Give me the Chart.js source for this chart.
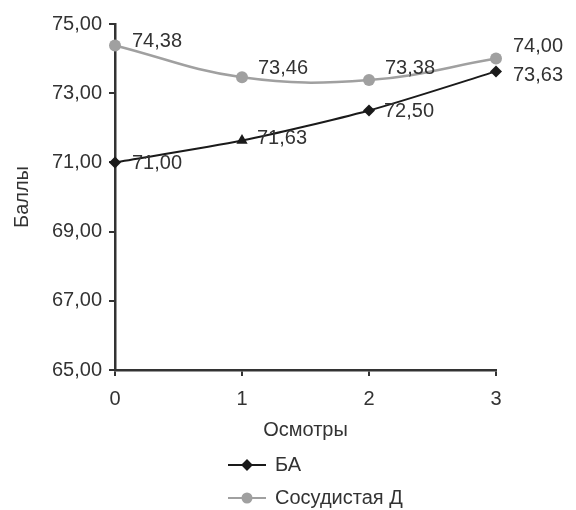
<!DOCTYPE html>
<html>
<head>
<meta charset="utf-8">
<script src="https://cdn.jsdelivr.net/npm/chart.js@4"></script>
<style>
html,body{margin:0;padding:0;background:#fff;}
#wrap{width:576px;height:510px;position:relative;}
</style>
</head>
<body>
<div id="wrap"><canvas id="c" width="576" height="510"></canvas></div>
<script>
const categories = ['0', '1', '2', '3'];
const seriesNames = ['БА', 'Сосудистая Д'];
const baValues = [71.00, 71.63, 72.50, 73.63];
const vascValues = [74.38, 73.46, 73.38, 74.00];
const yTicks = [65, 67, 69, 71, 73, 75];
const axisTitles = { x: 'Осмотры', y: 'Баллы' };

const TEXT = '#333333';
const GRAY = '#a0a0a0';
const BLACK = '#1a1a1a';
const FONT = 'Liberation Sans, Arial, sans-serif';
const FS = 20;

const fmt = v => v.toFixed(2).replace('.', ',');

// label offsets (style only): [dx, dy] per point
const labelOffsets = [
  [[17, 1], [15, -2], [15, 1], [17, 4]],
  [[17, -4], [16, -9], [16, -12], [17, -12]]
];

const labelPlugin = {
  id: 'valueLabels',
  afterDatasetsDraw(chart) {
    const ctx = chart.ctx;
    ctx.save();
    ctx.font = FS + 'px ' + FONT;
    ctx.fillStyle = TEXT;
    ctx.textAlign = 'left';
    ctx.textBaseline = 'middle';
    chart.data.datasets.forEach((ds, di) => {
      const meta = chart.getDatasetMeta(di);
      meta.data.forEach((pt, i) => {
        const o = labelOffsets[di][i];
        ctx.fillText(fmt(ds.data[i]), pt.x + o[0], pt.y + o[1]);
      });
    });
    ctx.restore();
  }
};

const legendPlugin = {
  id: 'customLegend',
  afterDraw(chart) {
    const ctx = chart.ctx;
    ctx.save();
    const items = [
      { y: 465, color: BLACK, style: 'rectRot', r: 4.5 },
      { y: 498, color: GRAY, style: 'circle', r: 4.5 }
    ];
    items.forEach((it, i) => {
      ctx.strokeStyle = it.color;
      ctx.lineWidth = 2;
      ctx.beginPath();
      ctx.moveTo(228, it.y);
      ctx.lineTo(266, it.y);
      ctx.stroke();
      ctx.fillStyle = it.color;
      Chart.helpers.drawPoint(ctx, { pointStyle: it.style, radius: it.r, borderWidth: 1 }, 247, it.y);
      ctx.fill();
      ctx.font = FS + 'px ' + FONT;
      ctx.fillStyle = TEXT;
      ctx.textAlign = 'left';
      ctx.textBaseline = 'middle';
      ctx.fillText(seriesNames[i], 275, it.y);
    });
    ctx.restore();
  }
};

new Chart(document.getElementById('c'), {
  type: 'line',
  data: {
    labels: categories,
    datasets: [
      {
        label: seriesNames[0],
        data: baValues,
        borderColor: BLACK,
        backgroundColor: BLACK,
        borderWidth: 2,
        pointStyle: ['rectRot', 'triangle', 'rectRot', 'rectRot'],
        pointRadius: [6, 6.5, 6, 6],
        pointBorderWidth: 0,
        tension: 0.25,
        fill: false
      },
      {
        label: seriesNames[1],
        data: vascValues,
        borderColor: GRAY,
        backgroundColor: GRAY,
        borderWidth: 2.5,
        pointStyle: 'circle',
        pointRadius: 6,
        pointBorderWidth: 0,
        tension: 0.4,
        fill: false
      }
    ]
  },
  options: {
    responsive: false,
    animation: false,
    events: [],
    layout: { padding: { left: 0, right: 80, top: 24, bottom: 0 } },
    plugins: { legend: { display: false }, tooltip: { enabled: false } },
    scales: {
      x: {
        offset: false,
        grid: { drawOnChartArea: false, drawTicks: true, tickLength: 6, color: '#333', lineWidth: 2 },
        border: { display: true, color: '#333', width: 2.5 },
        ticks: { color: TEXT, font: { family: FONT, size: FS }, padding: 11, maxRotation: 0 },
        title: { display: true, text: axisTitles.x, color: TEXT, font: { family: FONT, size: FS }, padding: { top: 0, bottom: 68 } },
        afterFit(s) { s.height = 140; }
      },
      y: {
        min: 65, max: 75,
        afterBuildTicks(s) { s.ticks = yTicks.map(v => ({ value: v })); },
        grid: { drawOnChartArea: false, drawTicks: true, tickLength: 6, color: '#333', lineWidth: 2 },
        border: { display: true, color: '#333', width: 2.5 },
        ticks: { color: TEXT, font: { family: FONT, size: FS }, padding: 7, callback: v => fmt(v) },
        title: { display: true, text: axisTitles.y, color: TEXT, font: { family: FONT, size: FS }, padding: { top: 10, bottom: 0 } },
        afterFit(s) { s.width = 115; }
      }
    }
  },
  plugins: [labelPlugin, legendPlugin]
});
</script>
</body>
</html>
